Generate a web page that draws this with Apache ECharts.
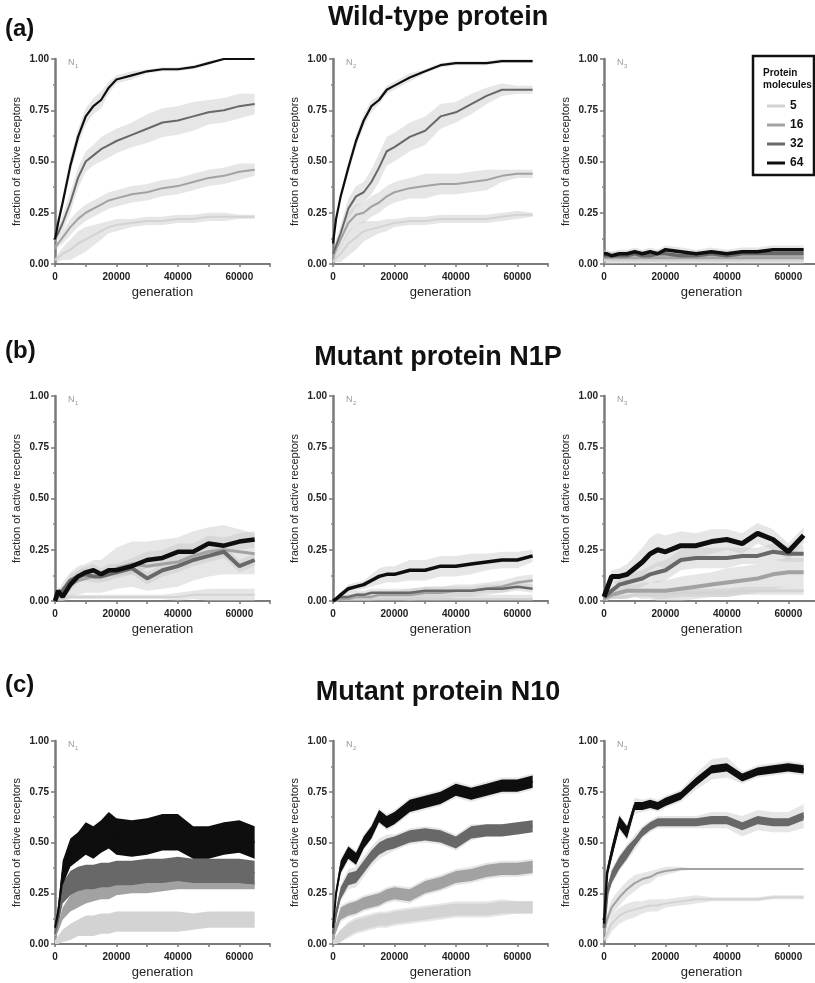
<!DOCTYPE html>
<html><head><meta charset="utf-8">
<script src="https://cdn.jsdelivr.net/npm/echarts@6/dist/echarts.min.js"></script>
<style>html,body{margin:0;padding:0;background:#fff}#c{width:815px;height:983px}</style>
</head><body><div id="c"></div>
<script>
// ---------- data ----------
const gen = [0,1000,2500,5000,7500,10000,12500,15000,17500,20000,25000,30000,35000,40000,45000,50000,55000,60000,65000];
const sizes = ['5','16','32','64'];
const xTickLabels = [0,20000,40000,60000];
const yTickLabels = ['0.00','0.25','0.50','0.75','1.00'];
const rowTitles = ['Wild-type protein','Mutant protein N1P','Mutant protein N10'];
const rowLetters = ['(a)','(b)','(c)'];
const panelSubs = ['1','2','3'];

// (a) wild type, N1
const a1_m5  = [0.02,0.03,0.05,0.07,0.10,0.12,0.14,0.16,0.18,0.19,0.20,0.21,0.21,0.22,0.22,0.23,0.23,0.23,0.23];
const a1_s5  = [0.01,0.02,0.03,0.05,0.06,0.06,0.05,0.04,0.03,0.03,0.02,0.02,0.02,0.02,0.02,0.02,0.02,0.01,0.01];
const a1_m16 = [0.08,0.10,0.13,0.18,0.22,0.25,0.27,0.29,0.31,0.32,0.34,0.35,0.37,0.38,0.40,0.42,0.43,0.45,0.46];
const a1_s16 = [0.01,0.02,0.03,0.04,0.04,0.04,0.04,0.04,0.04,0.04,0.04,0.04,0.04,0.04,0.04,0.04,0.04,0.04,0.03];
const a1_m32 = [0.12,0.15,0.20,0.30,0.42,0.50,0.53,0.56,0.58,0.60,0.63,0.66,0.69,0.70,0.72,0.74,0.75,0.77,0.78];
const a1_s32 = [0.01,0.03,0.04,0.05,0.05,0.05,0.05,0.06,0.06,0.06,0.06,0.07,0.07,0.07,0.07,0.06,0.06,0.06,0.05];
const a1_m64 = [0.12,0.20,0.30,0.48,0.62,0.72,0.77,0.80,0.86,0.90,0.92,0.94,0.95,0.95,0.96,0.98,1.00,1.00,1.00];
const a1_s64 = [0.01,0.02,0.03,0.04,0.04,0.04,0.04,0.04,0.03,0.02,0.02,0.01,0.01,0.01,0.01,0.01,0.00,0.00,0.00];
// (a) N2
const a2_m5  = [0.01,0.03,0.05,0.10,0.13,0.16,0.17,0.18,0.19,0.20,0.21,0.21,0.22,0.22,0.22,0.22,0.23,0.24,0.24];
const a2_s5  = [0.01,0.02,0.04,0.06,0.06,0.05,0.04,0.03,0.03,0.02,0.02,0.02,0.02,0.02,0.02,0.02,0.02,0.02,0.01];
const a2_m16 = [0.03,0.07,0.12,0.20,0.24,0.25,0.28,0.30,0.33,0.35,0.37,0.38,0.39,0.39,0.40,0.41,0.43,0.44,0.44];
const a2_s16 = [0.01,0.03,0.04,0.05,0.05,0.05,0.05,0.05,0.05,0.05,0.05,0.06,0.05,0.05,0.05,0.05,0.03,0.02,0.02];
const a2_m32 = [0.05,0.09,0.15,0.27,0.33,0.35,0.40,0.47,0.55,0.57,0.62,0.65,0.72,0.74,0.78,0.82,0.85,0.85,0.85];
const a2_s32 = [0.01,0.03,0.04,0.05,0.05,0.05,0.06,0.07,0.07,0.07,0.07,0.07,0.06,0.05,0.05,0.04,0.03,0.02,0.02];
const a2_m64 = [0.10,0.22,0.33,0.47,0.60,0.70,0.77,0.80,0.85,0.87,0.91,0.94,0.97,0.98,0.98,0.98,0.99,0.99,0.99];
const a2_s64 = [0.01,0.02,0.02,0.03,0.03,0.03,0.03,0.02,0.02,0.02,0.02,0.01,0.01,0.01,0.01,0.01,0.01,0.01,0.01];
// (a) N3
const a3_m5  = [0.02,0.02,0.02,0.02,0.02,0.02,0.02,0.02,0.02,0.02,0.02,0.02,0.02,0.02,0.02,0.02,0.02,0.02,0.02];
const a3_m16 = [0.03,0.03,0.03,0.03,0.03,0.03,0.03,0.03,0.03,0.03,0.03,0.03,0.03,0.03,0.03,0.03,0.03,0.03,0.03];
const a3_m32 = [0.04,0.04,0.04,0.04,0.04,0.05,0.04,0.04,0.05,0.05,0.04,0.04,0.05,0.04,0.05,0.05,0.05,0.05,0.05];
const a3_m64 = [0.05,0.05,0.04,0.05,0.05,0.06,0.05,0.06,0.05,0.07,0.06,0.05,0.06,0.05,0.06,0.06,0.07,0.07,0.07];
const a3_s   = [0.02,0.02,0.02,0.02,0.02,0.02,0.02,0.02,0.02,0.02,0.02,0.02,0.02,0.02,0.02,0.02,0.02,0.02,0.02];

// (b) N1P, N1
const b1_m5  = [0.00,0.01,0.01,0.02,0.02,0.02,0.02,0.02,0.02,0.02,0.02,0.02,0.02,0.02,0.03,0.03,0.03,0.03,0.03];
const b1_s5  = [0.00,0.01,0.01,0.01,0.01,0.01,0.01,0.01,0.01,0.01,0.01,0.01,0.01,0.02,0.02,0.03,0.03,0.03,0.03];
const b1_m16 = [0.00,0.02,0.04,0.08,0.10,0.11,0.12,0.12,0.14,0.16,0.18,0.17,0.18,0.19,0.22,0.24,0.25,0.24,0.23];
const b1_s16 = [0.01,0.03,0.05,0.06,0.07,0.07,0.08,0.08,0.09,0.10,0.11,0.12,0.12,0.12,0.12,0.12,0.12,0.11,0.10];
const b1_m32 = [0.00,0.03,0.05,0.10,0.12,0.13,0.12,0.12,0.13,0.14,0.16,0.11,0.15,0.17,0.20,0.22,0.24,0.17,0.20];
const b1_s32 = [0.00,0.02,0.02,0.03,0.03,0.03,0.03,0.03,0.03,0.03,0.03,0.03,0.03,0.03,0.03,0.03,0.03,0.03,0.03];
const b1_m64 = [0.00,0.05,0.02,0.08,0.12,0.14,0.15,0.13,0.15,0.15,0.17,0.20,0.21,0.24,0.24,0.28,0.27,0.29,0.30];
const b1_s64 = [0.01,0.02,0.02,0.03,0.03,0.03,0.03,0.03,0.03,0.03,0.04,0.04,0.04,0.04,0.04,0.04,0.04,0.04,0.04];
// (b) N2
const b2_m5  = [0.00,0.00,0.01,0.01,0.01,0.01,0.01,0.01,0.01,0.01,0.01,0.01,0.01,0.01,0.01,0.01,0.01,0.01,0.01];
const b2_s5  = [0.00,0.01,0.01,0.01,0.02,0.02,0.02,0.02,0.02,0.02,0.02,0.02,0.02,0.02,0.02,0.02,0.02,0.02,0.02];
const b2_m16 = [0.00,0.00,0.01,0.01,0.02,0.02,0.02,0.03,0.03,0.03,0.03,0.04,0.04,0.05,0.05,0.06,0.07,0.09,0.10];
const b2_s16 = [0.00,0.01,0.01,0.02,0.02,0.02,0.02,0.02,0.02,0.02,0.03,0.03,0.03,0.03,0.03,0.03,0.03,0.03,0.03];
const b2_m32 = [0.00,0.01,0.02,0.02,0.03,0.03,0.04,0.04,0.04,0.04,0.04,0.05,0.05,0.05,0.05,0.06,0.06,0.07,0.06];
const b2_s32 = [0.00,0.01,0.01,0.02,0.02,0.02,0.02,0.02,0.02,0.02,0.02,0.02,0.02,0.02,0.02,0.02,0.02,0.02,0.02];
const b2_m64 = [0.00,0.01,0.03,0.06,0.07,0.08,0.10,0.12,0.13,0.13,0.15,0.15,0.17,0.17,0.18,0.19,0.20,0.20,0.22];
const b2_s64 = [0.00,0.01,0.01,0.02,0.02,0.02,0.03,0.04,0.04,0.04,0.05,0.05,0.05,0.05,0.05,0.04,0.04,0.04,0.03];
// (b) N3
const b3_m5  = [0.01,0.01,0.02,0.02,0.02,0.03,0.03,0.03,0.03,0.03,0.04,0.04,0.04,0.04,0.05,0.05,0.05,0.05,0.05];
const b3_s5  = [0.00,0.01,0.01,0.01,0.01,0.01,0.01,0.01,0.02,0.02,0.02,0.02,0.02,0.02,0.02,0.02,0.02,0.02,0.02];
const b3_m16 = [0.01,0.02,0.03,0.04,0.05,0.05,0.05,0.05,0.05,0.05,0.06,0.07,0.08,0.09,0.10,0.11,0.13,0.14,0.14];
const b3_s16 = [0.01,0.01,0.02,0.03,0.03,0.03,0.04,0.04,0.05,0.05,0.06,0.06,0.06,0.07,0.07,0.07,0.07,0.07,0.07];
const b3_m32 = [0.02,0.03,0.05,0.08,0.09,0.10,0.11,0.13,0.14,0.15,0.20,0.21,0.21,0.21,0.22,0.22,0.24,0.23,0.23];
const b3_s32 = [0.01,0.02,0.03,0.03,0.04,0.04,0.04,0.04,0.05,0.05,0.05,0.05,0.05,0.05,0.04,0.04,0.04,0.04,0.04];
const b3_m64 = [0.02,0.06,0.12,0.12,0.13,0.16,0.19,0.23,0.25,0.24,0.27,0.27,0.29,0.30,0.28,0.33,0.30,0.24,0.32];
const b3_s64 = [0.01,0.02,0.03,0.04,0.05,0.06,0.07,0.08,0.08,0.08,0.07,0.06,0.06,0.05,0.05,0.05,0.05,0.04,0.04];

// (c) N10, N1  (n = spread of the noisy trace)
const c1_m5  = [0.01,0.02,0.04,0.06,0.08,0.09,0.09,0.10,0.10,0.11,0.11,0.11,0.11,0.11,0.11,0.12,0.12,0.12,0.12];
const c1_n5  = [0.01,0.02,0.03,0.04,0.04,0.05,0.05,0.05,0.05,0.05,0.05,0.05,0.05,0.05,0.04,0.04,0.04,0.04,0.04];
const c1_m16 = [0.04,0.08,0.15,0.20,0.22,0.24,0.25,0.26,0.26,0.27,0.28,0.28,0.29,0.29,0.29,0.29,0.29,0.29,0.29];
const c1_n16 = [0.02,0.02,0.03,0.04,0.04,0.04,0.04,0.04,0.04,0.03,0.03,0.03,0.03,0.02,0.02,0.02,0.02,0.02,0.02];
const c1_m32 = [0.05,0.12,0.25,0.30,0.32,0.33,0.33,0.34,0.34,0.35,0.35,0.36,0.36,0.37,0.36,0.36,0.36,0.36,0.35];
const c1_n32 = [0.02,0.03,0.05,0.06,0.06,0.06,0.06,0.06,0.06,0.06,0.06,0.06,0.06,0.06,0.06,0.06,0.06,0.06,0.06];
const c1_m64 = [0.08,0.15,0.35,0.45,0.48,0.52,0.50,0.53,0.56,0.53,0.52,0.53,0.55,0.55,0.50,0.50,0.52,0.53,0.50];
const c1_n64 = [0.02,0.04,0.06,0.07,0.07,0.08,0.08,0.08,0.09,0.09,0.09,0.09,0.09,0.09,0.08,0.08,0.08,0.08,0.08];
// (c) N2
const c2_m5  = [0.01,0.02,0.04,0.07,0.09,0.10,0.11,0.12,0.12,0.13,0.14,0.15,0.16,0.17,0.17,0.17,0.18,0.18,0.18];
const c2_s5  = [0.01,0.02,0.03,0.04,0.04,0.04,0.04,0.04,0.04,0.04,0.04,0.04,0.04,0.04,0.04,0.04,0.04,0.03,0.03];
const c2_m16 = [0.03,0.08,0.15,0.17,0.18,0.20,0.21,0.22,0.24,0.25,0.24,0.28,0.30,0.33,0.34,0.36,0.37,0.37,0.38];
const c2_s16 = [0.01,0.03,0.04,0.04,0.04,0.04,0.04,0.04,0.04,0.04,0.04,0.04,0.04,0.04,0.04,0.04,0.04,0.04,0.04];
const c2_m32 = [0.05,0.15,0.25,0.32,0.33,0.38,0.43,0.47,0.49,0.50,0.53,0.54,0.53,0.50,0.55,0.56,0.56,0.57,0.58];
const c2_s32 = [0.01,0.03,0.04,0.05,0.05,0.05,0.05,0.05,0.05,0.04,0.04,0.04,0.04,0.04,0.04,0.03,0.03,0.03,0.03];
const c2_m64 = [0.08,0.25,0.38,0.45,0.42,0.50,0.55,0.63,0.60,0.62,0.68,0.70,0.72,0.76,0.74,0.76,0.78,0.78,0.80];
const c2_s64 = [0.01,0.03,0.04,0.04,0.04,0.04,0.04,0.04,0.04,0.04,0.04,0.04,0.04,0.04,0.04,0.04,0.04,0.04,0.04];
const c2_n   = [0.01,0.02,0.03,0.03,0.03,0.03,0.03,0.03,0.03,0.03,0.03,0.03,0.03,0.03,0.03,0.03,0.03,0.03,0.03];
// (c) N3
const c3_m5  = [0.02,0.05,0.10,0.14,0.16,0.17,0.18,0.19,0.19,0.20,0.21,0.22,0.22,0.22,0.22,0.22,0.23,0.23,0.23];
const c3_s5  = [0.01,0.03,0.04,0.04,0.04,0.04,0.03,0.03,0.03,0.02,0.02,0.02,0.01,0.01,0.01,0.01,0.01,0.01,0.01];
const c3_m16 = [0.05,0.12,0.18,0.23,0.27,0.30,0.32,0.33,0.35,0.36,0.37,0.37,0.37,0.37,0.37,0.37,0.37,0.37,0.37];
const c3_s16 = [0.01,0.03,0.04,0.04,0.04,0.04,0.03,0.03,0.02,0.02,0.01,0.00,0.00,0.00,0.00,0.00,0.00,0.00,0.00];
const c3_m32 = [0.08,0.25,0.33,0.40,0.45,0.50,0.55,0.58,0.60,0.60,0.60,0.60,0.61,0.61,0.58,0.61,0.60,0.60,0.63];
const c3_s32 = [0.01,0.03,0.04,0.04,0.04,0.04,0.03,0.03,0.03,0.03,0.03,0.03,0.04,0.04,0.05,0.05,0.05,0.05,0.06];
const c3_m64 = [0.10,0.35,0.45,0.60,0.55,0.68,0.68,0.69,0.68,0.70,0.73,0.80,0.86,0.87,0.82,0.85,0.86,0.87,0.86];
const c3_s64 = [0.01,0.03,0.04,0.04,0.04,0.04,0.03,0.03,0.03,0.03,0.03,0.04,0.05,0.05,0.03,0.03,0.03,0.03,0.03];
const c3_n   = [0.01,0.02,0.03,0.03,0.03,0.02,0.02,0.02,0.02,0.02,0.02,0.02,0.02,0.02,0.02,0.02,0.02,0.02,0.02];

// ---------- panel specs ----------
const panels = [
  {row:0,col:0,m:[a1_m5,a1_m16,a1_m32,a1_m64],s:[a1_s5,a1_s16,a1_s32,a1_s64],n:null,lw:[2,2,2,2.2]},
  {row:0,col:1,m:[a2_m5,a2_m16,a2_m32,a2_m64],s:[a2_s5,a2_s16,a2_s32,a2_s64],n:null,lw:[2,2,2,2.2]},
  {row:0,col:2,m:[a3_m5,a3_m16,a3_m32,a3_m64],s:[a3_s,a3_s,a3_s,a3_s],n:null,lw:[3,3,3.5,3.5]},
  {row:1,col:0,m:[b1_m5,b1_m16,b1_m32,b1_m64],s:[b1_s5,b1_s16,b1_s32,b1_s64],n:null,lw:[2,3,4,4.5]},
  {row:1,col:1,m:[b2_m5,b2_m16,b2_m32,b2_m64],s:[b2_s5,b2_s16,b2_s32,b2_s64],n:null,lw:[2,2.5,2.5,3.5]},
  {row:1,col:2,m:[b3_m5,b3_m16,b3_m32,b3_m64],s:[b3_s5,b3_s16,b3_s32,b3_s64],n:null,lw:[3,4,4,5]},
  {row:2,col:0,m:[c1_m5,c1_m16,c1_m32,c1_m64],s:null,n:[c1_n5,c1_n16,c1_n32,c1_n64],lw:[2,2,2,2]},
  {row:2,col:1,m:[c2_m5,c2_m16,c2_m32,c2_m64],s:[c2_s5,c2_s16,c2_s32,c2_s64],n:[c2_n,c2_n,c2_n,c2_n],lw:[2,2,2,2]},
  {row:2,col:2,m:[c3_m5,c3_m16,c3_m32,c3_m64],s:[c3_s5,c3_s16,c3_s32,c3_s64],n:[null,null,c3_n,c3_n],lw:[2,2,3,2.5]}
];

// ---------- layout / style ----------
const FONT = '"Liberation Sans", Arial, Helvetica, sans-serif';
const colors = ['#d3d3d3','#a2a2a2','#686868','#0e0e0e'];
const bandColor = 'rgba(200,200,200,0.45)';
const colLeft = [55, 333, 604];
const rowTop = [59, 396, 741];
const rowH = [205, 205, 203];
const gridW = 215;

const grids = [], xAxes = [], yAxes = [], series = [], graphics = [];

// band between (mean - w) and (mean + w), drawn as one polygon through the axes' scales
function band(gi, m, w, color, z) {
  const rows = gen.map((x, i) => [x, Math.max(0, m[i] - w[i]), Math.min(1, m[i] + w[i])]);
  return {
    type:'custom', name:'band', xAxisIndex:gi, yAxisIndex:gi, silent:true, z:z,
    encode:{x:0, y:[1,2]}, data:rows,
    renderItem: function (params, api) {
      if (params.dataIndexInside !== 0) return;
      const n = params.dataInsideLength;
      const pts = [];
      for (let i = 0; i < n; i++) pts.push(api.coord([api.value(0, i), api.value(2, i)]));
      for (let i = n - 1; i >= 0; i--) pts.push(api.coord([api.value(0, i), api.value(1, i)]));
      return {type:'polygon', shape:{points:pts}, style:{fill:color}};
    }
  };
}

panels.forEach((p, gi) => {
  const left = colLeft[p.col], top = rowTop[p.row], h = rowH[p.row];
  grids.push({left:left, top:top, width:gridW, height:h, containLabel:false, outerBoundsMode:'none'});
  xAxes.push({
    type:'value', gridIndex:gi, min:0, max:70000, interval:10000,
    name:'generation', nameLocation:'middle', nameGap:22,
    nameTextStyle:{fontFamily:FONT, fontSize:13, color:'#222'},
    axisLine:{show:true, onZero:false, lineStyle:{color:'#7a7a7a', width:2}},
    axisTick:{show:true, length:3, lineStyle:{color:'#7a7a7a', width:1.5}},
    axisLabel:{interval:0, margin:8, fontFamily:FONT, fontSize:10, fontWeight:'bold', color:'#222',
      formatter: v => xTickLabels.indexOf(v) >= 0 ? String(v) : ''},
    splitLine:{show:false}
  });
  yAxes.push({
    type:'value', gridIndex:gi, min:0, max:1, interval:0.25,
    name:'fraction of active receptors', nameLocation:'middle', nameGap:33,
    nameTextStyle:{fontFamily:FONT, fontSize:11, color:'#222'},
    axisLine:{show:true, onZero:false, lineStyle:{color:'#7a7a7a', width:2.5}},
    axisTick:{show:true, length:4, lineStyle:{color:'#7a7a7a', width:1.5}},
    minorTick:{show:true, splitNumber:2, length:2, lineStyle:{color:'#8a8a8a', width:1.5}},
    axisLabel:{margin:6, fontFamily:FONT, fontSize:10, fontWeight:'bold', color:'#222',
      formatter: (v) => yTickLabels[Math.round(v / 0.25)]},
    splitLine:{show:false}, minorSplitLine:{show:false}
  });
  if (p.s) p.m.forEach((m, k) => { if (p.s[k]) series.push(band(gi, m, p.s[k], bandColor, 1)); });
  if (p.n) p.m.forEach((m, k) => { if (p.n[k]) series.push(band(gi, m, p.n[k], colors[k], 2)); });
  p.m.forEach((m, k) => {
    series.push({
      type:'line', name:sizes[k], xAxisIndex:gi, yAxisIndex:gi, symbol:'none', z:3 + k,
      color:colors[k], lineStyle:{color:colors[k], width:p.lw[k]},
      data: gen.map((x, i) => [x, m[i]]), emphasis:{disabled:true}
    });
  });
  graphics.push({type:'text', x:left + 13, y:top + 4,
    style:{text:'N', font:'9px ' + FONT, fill:'#999', textAlign:'left', textVerticalAlign:'middle'}});
  graphics.push({type:'text', x:left + 20, y:top + 7,
    style:{text:panelSubs[p.col], font:'6px ' + FONT, fill:'#999', textAlign:'left', textVerticalAlign:'middle'}});
});

const titleY = [18, 358, 693];
const letterY = [29, 351, 685];
rowTitles.forEach((t, r) => {
  graphics.push({type:'text', x:438, y:titleY[r],
    style:{text:t, font:'bold 27px ' + FONT, fill:'#111', textAlign:'center', textVerticalAlign:'middle'}});
  graphics.push({type:'text', x:5, y:letterY[r],
    style:{text:rowLetters[r], font:'bold 24px ' + FONT, fill:'#111', textAlign:'left', textVerticalAlign:'middle'}});
});

graphics.push({type:'rect', shape:{x:753, y:56, width:61, height:119},
  style:{fill:'#fff', stroke:'#111', lineWidth:2.5}, z:10});
graphics.push({type:'text', x:763, y:73, z:11,
  style:{text:'Protein', font:'bold 10px ' + FONT, fill:'#111', textAlign:'left', textVerticalAlign:'middle'}});
graphics.push({type:'text', x:763, y:85, z:11,
  style:{text:'molecules', font:'bold 10px ' + FONT, fill:'#111', textAlign:'left', textVerticalAlign:'middle'}});

const chart = echarts.init(document.getElementById('c'), null, {renderer:'canvas'});
chart.setOption({
  animation:false,
  backgroundColor:'#fff',
  grid:grids, xAxis:xAxes, yAxis:yAxes,
  legend:{data:sizes, orient:'vertical', left:767, top:100, itemWidth:18, itemHeight:3, itemGap:7,
    icon:'rect', padding:0, z:12, selectedMode:false,
    textStyle:{fontFamily:FONT, fontSize:12, fontWeight:'bold', color:'#111'}},
  graphic:{elements:graphics},
  series:series
});
</script></body></html>
